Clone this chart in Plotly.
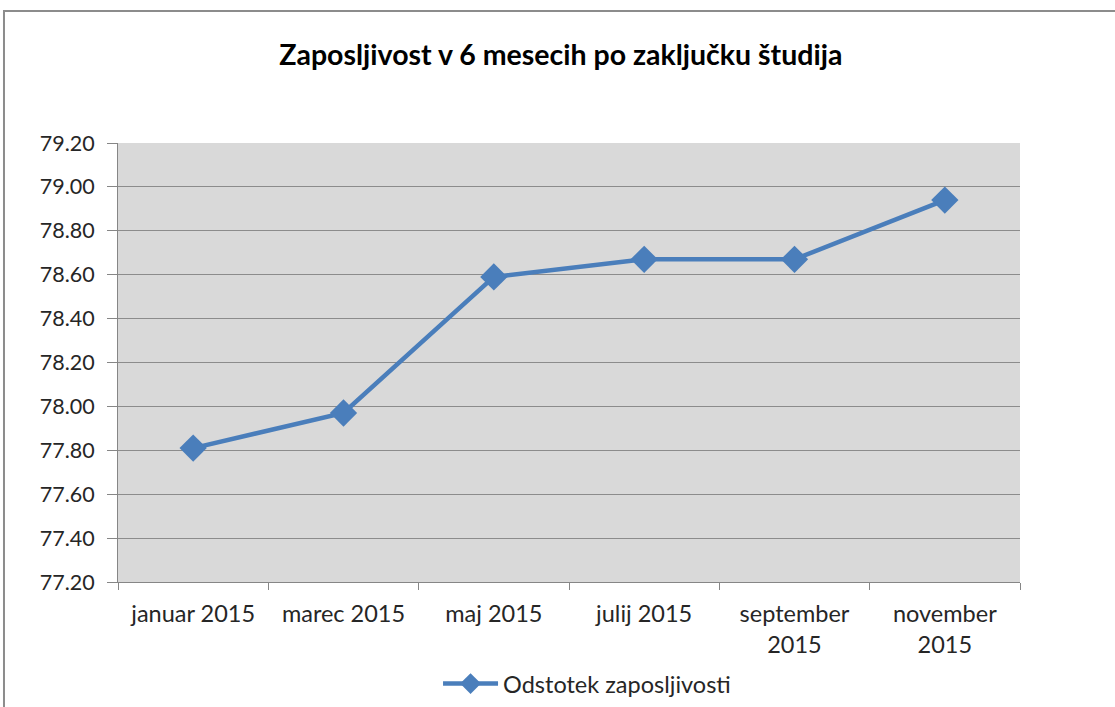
import plotly.graph_objects as go

# Data
months = ['januar 2015', 'marec 2015', 'maj 2015', 'julij 2015',
          'september<br>2015', 'november<br>2015']
employability = [77.81, 77.97, 78.59, 78.67, 78.67, 78.94]
y_ticks = [77.2, 77.4, 77.6, 77.8, 78.0, 78.2, 78.4, 78.6, 78.8, 79.0, 79.2]

blue = '#4A7EBB'
font = 'Lato, Open Sans, sans-serif'

fig = go.Figure()
fig.add_trace(go.Scatter(
    x=months, y=employability, mode='lines+markers',
    name='Odstotek zaposljivosti',
    line=dict(color=blue, width=4.5),
    marker=dict(symbol='diamond', size=21, color=blue),
))

fig.update_layout(
    width=1115, height=707,
    margin=dict(l=118, r=95, t=143, b=125, autoexpand=False),
    paper_bgcolor='white', plot_bgcolor='#D9D9D9',
    font=dict(family=font, size=23, color='#262626'),
    title=dict(text='<b>Zaposljivost v 6 mesecih po zaključku študija</b>',
               x=0.503, xanchor='center', y=0.922, yanchor='middle',
               font=dict(size=28.5, color='black')),
    showlegend=True,
    legend=dict(orientation='h', x=0.52, xanchor='center', y=-0.232, yanchor='middle',
                font=dict(size=23.5), bgcolor='rgba(0,0,0,0)', itemwidth=55),
    xaxis=dict(type='category', range=[-0.5, len(months) - 0.5],
               tickson='boundaries', ticks='outside', ticklen=7,
               tickcolor='#868686', showline=True, linecolor='#868686', linewidth=1,
               showgrid=False, automargin=False, ticklabelstandoff=11,
               tickfont=dict(size=23.5)),
    yaxis=dict(range=[77.2, 79.2], tickvals=y_ticks, tickformat='.2f',
               ticks='outside', ticklen=10, tickcolor='#868686',
               showline=True, linecolor='#868686', linewidth=1,
               gridcolor='#8C8C8C', gridwidth=1, zeroline=False,
               automargin=False, ticklabelstandoff=8, tickfont=dict(size=21.5)),
)

# outer chart border (top and left edges visible)
fig.add_shape(type='rect', xref='paper', yref='paper',
              x0=-0.1264, x1=1.12, y0=-0.32, y1=1.3007,
              line=dict(color='#8C8C8C', width=2), layer='below')

# drop the default body margin so the figure sits at the page origin
fig.write_html('out.html', config={'displayModeBar': False},
               post_script="document.body.style.margin='0';")
